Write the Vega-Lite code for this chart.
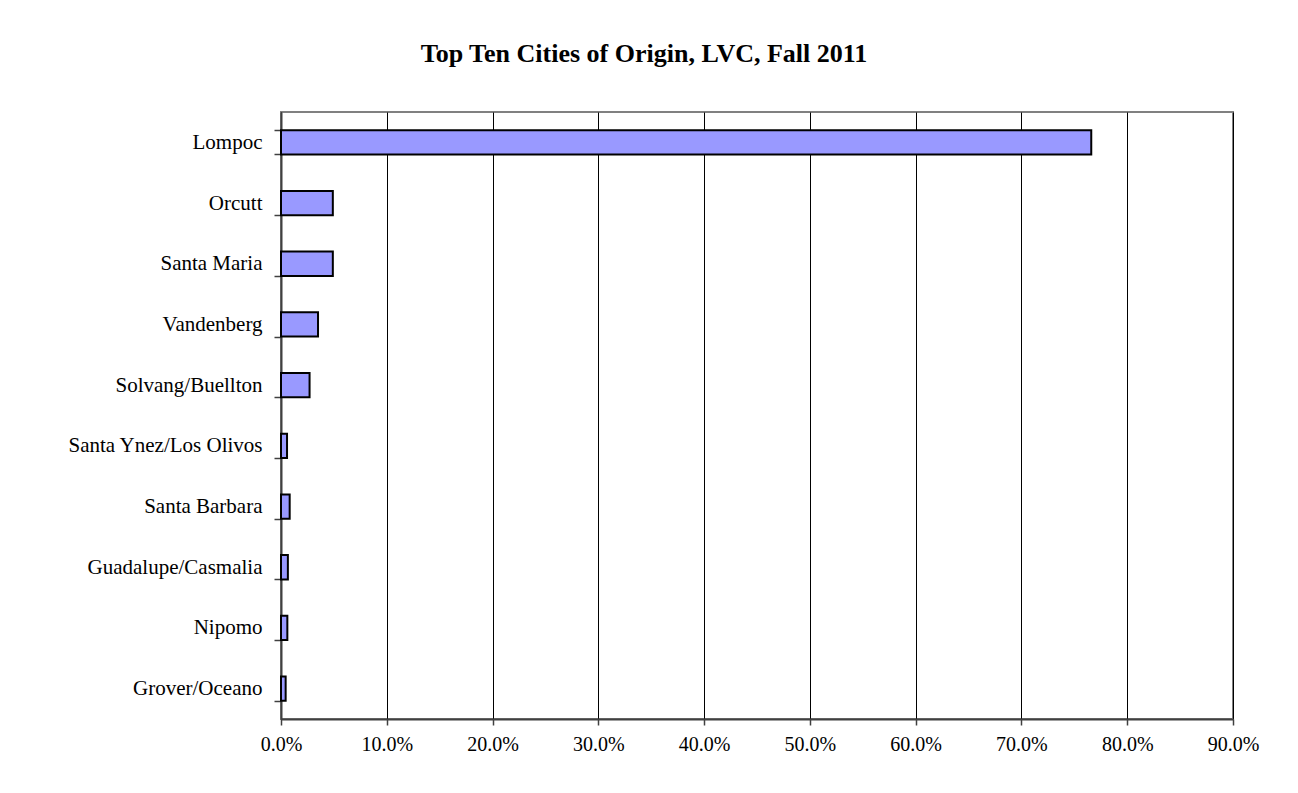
{
  "$schema": "https://vega.github.io/schema/vega-lite/v6.json",
  "width": 952,
  "height": 607,
  "autosize": {"type": "none"},
  "padding": {"left": 281, "top": 112, "right": 65, "bottom": 74},
  "background": "white",
  "title": {
    "text": "Top Ten Cities of Origin, LVC, Fall 2011",
    "font": "Liberation Serif",
    "fontSize": 26,
    "fontWeight": "bold",
    "color": "black",
    "anchor": "middle",
    "frame": "group",
    "dx": -113,
    "offset": 34
  },
  "config": {
    "view": {"stroke": "#808080", "strokeWidth": 2},
    "axis": {
      "labelFont": "Liberation Serif",
      "labelFontSize": 21,
      "labelColor": "black",
      "labelLimit": 0,
      "labelFlush": false,
      "domainColor": "#404040",
      "domainWidth": 2,
      "tickColor": "#404040",
      "tickWidth": 1.5
    }
  },
  "data": {
    "values": [
      {"city": "Lompoc", "pct": 0.766},
      {"city": "Orcutt", "pct": 0.049},
      {"city": "Santa Maria", "pct": 0.049},
      {"city": "Vandenberg", "pct": 0.035},
      {"city": "Solvang/Buellton", "pct": 0.027},
      {"city": "Santa Ynez/Los Olivos", "pct": 0.0057},
      {"city": "Santa Barbara", "pct": 0.0082},
      {"city": "Guadalupe/Casmalia", "pct": 0.0065},
      {"city": "Nipomo", "pct": 0.006},
      {"city": "Grover/Oceano", "pct": 0.0044}
    ]
  },
  "mark": {"type": "bar", "color": "#9999FF", "stroke": "black", "strokeWidth": 2},
  "encoding": {
    "y": {
      "field": "city",
      "type": "nominal",
      "sort": null,
      "title": null,
      "scale": {"paddingInner": 0.6, "paddingOuter": 0.3},
      "axis": {
        "tickBand": "extent",
        "grid": false,
        "tickSize": 7,
        "labelPadding": 12
      }
    },
    "x": {
      "field": "pct",
      "type": "quantitative",
      "title": null,
      "scale": {"domain": [0, 0.9], "nice": false},
      "axis": {
        "format": ".1%",
        "values": [0, 0.1, 0.2, 0.3, 0.4, 0.5, 0.6, 0.7, 0.8, 0.9],
        "grid": true,
        "gridColor": "black",
        "gridWidth": 1,
        "gridOpacity": 1,
        "tickSize": 6,
        "labelPadding": 9,
        "labelFontSize": 20
      }
    }
  }
}
